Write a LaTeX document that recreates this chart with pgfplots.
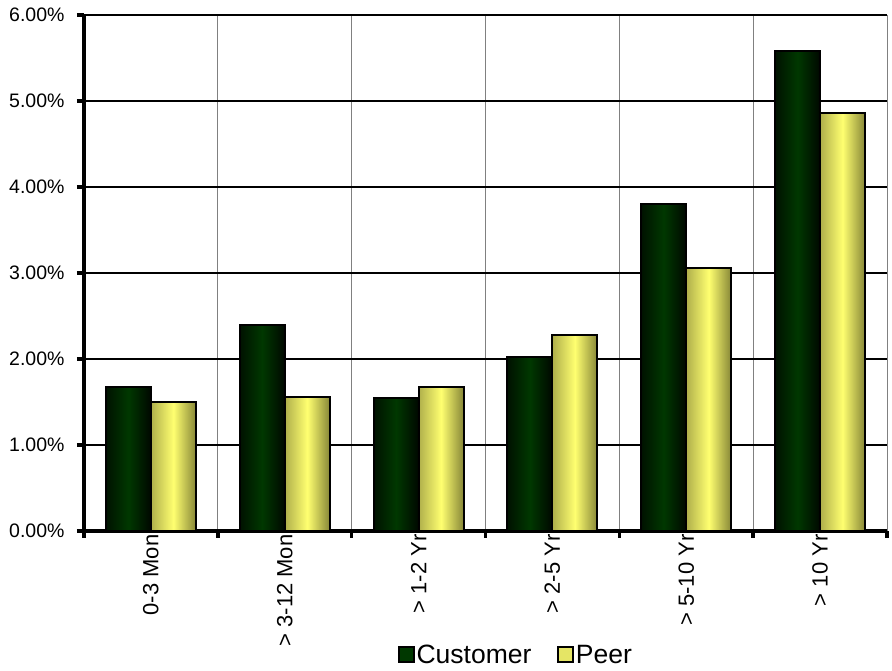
\documentclass[border=0pt]{standalone}
\usepackage{pgfplots}
\pgfplotsset{compat=1.18}
\usepackage{fontspec}
\setmainfont{Liberation Sans}
\definecolor{gdark}{RGB}{0,18,0}
\definecolor{gmid}{RGB}{0,56,0}
\definecolor{gright}{RGB}{0,8,0}
\definecolor{yleft}{RGB}{175,175,75}
\definecolor{ymid}{RGB}{255,255,112}
\definecolor{yright}{RGB}{135,135,55}
\pgfplotsset{
  custbar/.style={ybar, bar width=45pt, bar shift=-22.5pt, draw=black, line width=2pt,
    left color=gdark, right color=gright, middle color=gmid, forget plot},
  peerbar/.style={ybar, bar width=45pt, bar shift=22.5pt, draw=black, line width=2pt,
    left color=yleft, right color=yright, middle color=ymid, forget plot},
}
\newcommand{\cbar}[2]{\addplot[custbar] coordinates {(#1,#2)};}
\newcommand{\pbar}[2]{\addplot[peerbar] coordinates {(#1,#2)};}
\begin{document}
\begin{tikzpicture}
\begin{axis}[
  name=ax,
  scale only axis, width=803pt, height=516pt,
  xmin=-0.5, xmax=5.5, ymin=0, ymax=6,
  axis x line=bottom, axis y line=left,
  axis line style={-, line width=4pt, black},
  tick align=outside,
  major tick length=7pt,
  every tick/.style={black, line width=3.5pt},
  xtick={-0.5,0.5,...,5.5},
  xticklabels={},
  xmajorgrids, ymajorgrids,
  major x grid style={gray, line width=0.9pt},
  major y grid style={black, line width=1.8pt},
  extra x ticks={0,1,2,3,4,5},
  extra x tick labels={0-3 Mon, > 3-12 Mon, > 1-2 Yr, > 2-5 Yr, > 5-10 Yr, > 10 Yr},
  extra x tick style={major tick length=0pt, grid=none,
    tick label style={rotate=90, anchor=east, font=\fontsize{22}{25}\selectfont}},
  ytick={0,1,2,3,4,5,6},
  /pgf/number format/assume math mode=true,
  yticklabel={\pgfmathprintnumber[fixed,fixed zerofill,precision=2]{\tick}\%},
  yticklabel style={font=\fontsize{19.5}{22}\selectfont, xshift=-9pt},
  legend style={at={(0.538,-0.24)}, anchor=center, draw=none, fill=none,
    legend columns=2, font=\fontsize{26.5}{30}\selectfont,
    /tikz/every even column/.append style={column sep=24pt}},
  clip=false,
]
% Customer
\cbar{0}{1.67}
\cbar{1}{2.40}
\cbar{2}{1.55}
\cbar{3}{2.02}
\cbar{4}{3.80}
\cbar{5}{5.58}
% Peer
\pbar{0}{1.50}
\pbar{1}{1.56}
\pbar{2}{1.67}
\pbar{3}{2.28}
\pbar{4}{3.06}
\pbar{5}{4.86}
\addlegendimage{legend image code/.code={\draw[fill=gmid, line width=1.5pt] (-3pt,-7pt) rectangle (12pt,8pt);}}
\addlegendentry{Customer}
\addlegendimage{legend image code/.code={\draw[fill=ymid!90!black, line width=1.5pt] (-3pt,-7pt) rectangle (12pt,8pt);}}
\addlegendentry{Peer}
\coordinate (bl) at (rel axis cs:0,0);
\end{axis}
\pgfresetboundingbox
\path (bl) ++(-84pt,-140pt) rectangle ++(892pt,671pt);
\end{tikzpicture}
\end{document}
